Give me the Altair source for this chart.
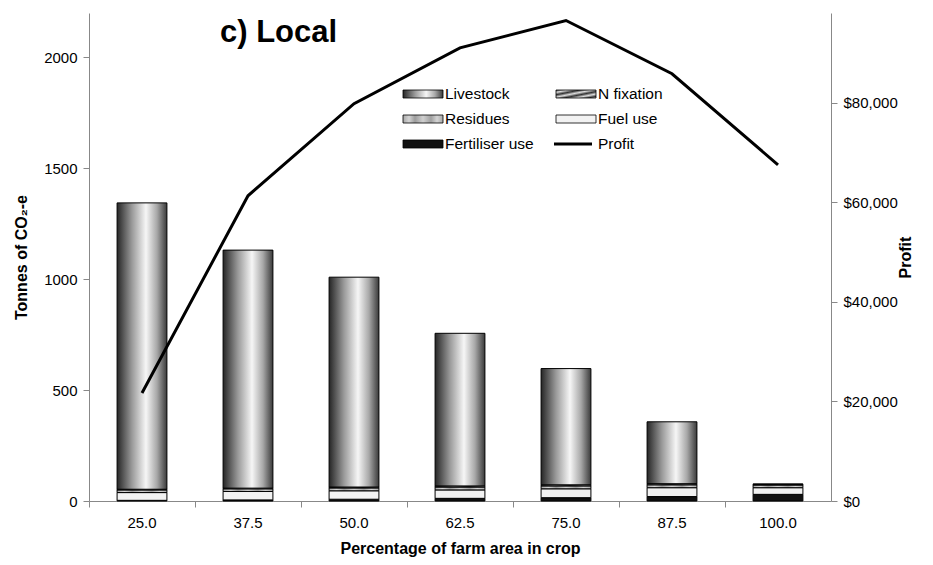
import altair as alt
import pandas as pd

# ---- data ----
pct_labels = ["25.0", "37.5", "50.0", "62.5", "75.0", "87.5", "100.0"]
livestock = [1291, 1073, 946, 688, 524, 279, 2]
n_fixation = [3, 3, 4, 5, 5, 5, 3]
residues = [12, 12, 13, 13, 13, 13, 12]
fuel_use = [35, 38, 38, 38, 40, 40, 30]
fertiliser_use = [3, 5, 8, 12, 15, 20, 30]
profit = [21700, 61300, 79800, 91000, 96500, 85800, 67500]

components = [
    ("Fertiliser use", fertiliser_use),
    ("Fuel use", fuel_use),
    ("Residues", residues),
    ("N fixation", n_fixation),
    ("Livestock", livestock),
]
rows = []
for order, (name, vals) in enumerate(components):
    for p, v in zip(pct_labels, vals):
        rows.append({"pct": p, "comp": name, "ord": order, "value": v})
df = pd.DataFrame(rows)
profit_df = pd.DataFrame({"pct": pct_labels, "profit": profit})
one = pd.DataFrame({"k": [0]})

FONT = "Liberation Sans"


def gstops(pairs):
    return [alt.GradientStop(offset=o, color=c) for o, c in pairs]


fills = {
    "Livestock": alt.Gradient(gradient="linear", x1=0, x2=1, y1=0, y2=0,
                              stops=gstops([(0, "#262626"), (0.3, "#9a9a9a"), (0.58, "#f6f6f6"),
                                            (0.8, "#a8a8a8"), (1, "#3a3a3a")])),
    "N fixation": alt.Gradient(gradient="linear", x1=0, x2=1, y1=0, y2=1,
                               stops=gstops([(0, "#333"), (0.15, "#ddd"), (0.3, "#333"), (0.45, "#ddd"),
                                             (0.6, "#333"), (0.75, "#ddd"), (0.9, "#333"), (1, "#ddd")])),
    "Residues": alt.Gradient(gradient="linear", x1=0, x2=1, y1=0, y2=0,
                             stops=gstops([(0, "#a8a8a8"), (0.15, "#d4d4d4"), (0.3, "#9c9c9c"),
                                           (0.5, "#d0d0d0"), (0.7, "#a0a0a0"), (0.85, "#d4d4d4"),
                                           (1, "#a8a8a8")])),
    "Fuel use": "#f2f2f2",
    "Fertiliser use": "#111111",
}

xscale = alt.Scale(domain=pct_labels, paddingInner=0, paddingOuter=0)
yaxis_left = alt.Axis(values=[0, 500, 1000, 1500, 2000], title="Tonnes of CO₂-e", titlePadding=14,
                      orient="left", format="d", labelPadding=6)
xaxis_labels = alt.Axis(title="Percentage of farm area in crop", ticks=False, labelAngle=0,
                        labelPadding=14, titlePadding=10, orient="bottom")

bar_layers = []
for i, (name, _) in enumerate(components):
    layer = (
        alt.Chart(df)
        .transform_stack(stack="value", groupby=["pct"], sort=[alt.SortField("ord")], as_=["y0", "y1"])
        .transform_filter(alt.datum.comp == name)
        .mark_bar(fill=fills[name], stroke="black", strokeWidth=1, width={"band": 0.47})
        .encode(
            y=alt.Y("y0:Q", scale=alt.Scale(domain=[0, 2200], nice=False), axis=yaxis_left),
            y2="y1:Q",
            x=alt.X("pct:N", scale=xscale, sort=pct_labels, axis=xaxis_labels),
        )
    )
    bar_layers.append(layer)

bars = alt.layer(*bar_layers)

line = alt.Chart(profit_df).mark_line(color="black", strokeWidth=3).encode(
    x=alt.X("pct:N", scale=xscale, sort=pct_labels,
            axis=alt.Axis(bandPosition=0, labels=False, title=None, domain=False, orient="bottom",
                          tickSize=6, tickColor="#888")),
    y=alt.Y("profit:Q", scale=alt.Scale(domain=[0, 98000], nice=False),
            axis=alt.Axis(orient="right", format="$,.0f", title="Profit", titleAngle=270,
                          values=[0, 20000, 40000, 60000, 80000], titlePadding=16, labelPadding=6)),
)

main = alt.layer(bars, line).resolve_scale(y="independent").resolve_axis(x="independent")

# ---- legend (drawn inside the plot like the reference) ----
legend_items = [
    ("Livestock", 0, 0), ("N fixation", 1, 0),
    ("Residues", 0, 1), ("Fuel use", 1, 1),
    ("Fertiliser use", 0, 2), ("Profit", 1, 2),
]
col_x = [314, 467]
row_y = [81, 106, 131]
sw_w = 40
sw_h = 8
leg_layers = []
for name, c, r in legend_items:
    x0 = col_x[c]
    yc = row_y[r]
    if name == "Profit":
        leg_layers.append(
            alt.Chart(one).mark_rule(color="black", strokeWidth=3).encode(
                x=alt.value(x0 - 2), x2=alt.value(x0 + sw_w - 4), y=alt.value(yc))
        )
    else:
        leg_layers.append(
            alt.Chart(one).mark_rect(fill=fills[name], stroke="black", strokeWidth=0.8).encode(
                x=alt.value(x0), x2=alt.value(x0 + sw_w),
                y=alt.value(yc - sw_h / 2), y2=alt.value(yc + sw_h / 2))
        )
    leg_layers.append(
        alt.Chart(one).mark_text(text=name, align="left", baseline="middle", font=FONT,
                                 fontSize=15.5, color="black").encode(
            x=alt.value(x0 + sw_w + 2), y=alt.value(yc))
    )

title = alt.Chart(one).mark_text(text="c) Local", align="left", baseline="middle", font=FONT,
                                 fontSize=31, fontWeight="bold", color="black").encode(
    x=alt.value(131), y=alt.value(20))

chart = (
    alt.layer(main, *leg_layers, title)
    .properties(width=742, height=488)
    .configure_view(stroke=None)
    .configure_axis(labelFont=FONT, labelFontSize=15, labelColor="black",
                    titleFont=FONT, titleFontSize=16, titleFontWeight="bold", titleColor="black",
                    grid=False, domainColor="#888", tickColor="#888", tickSize=6)
)

chart.save("out.html", embed_options={"renderer": "svg", "actions": False})
